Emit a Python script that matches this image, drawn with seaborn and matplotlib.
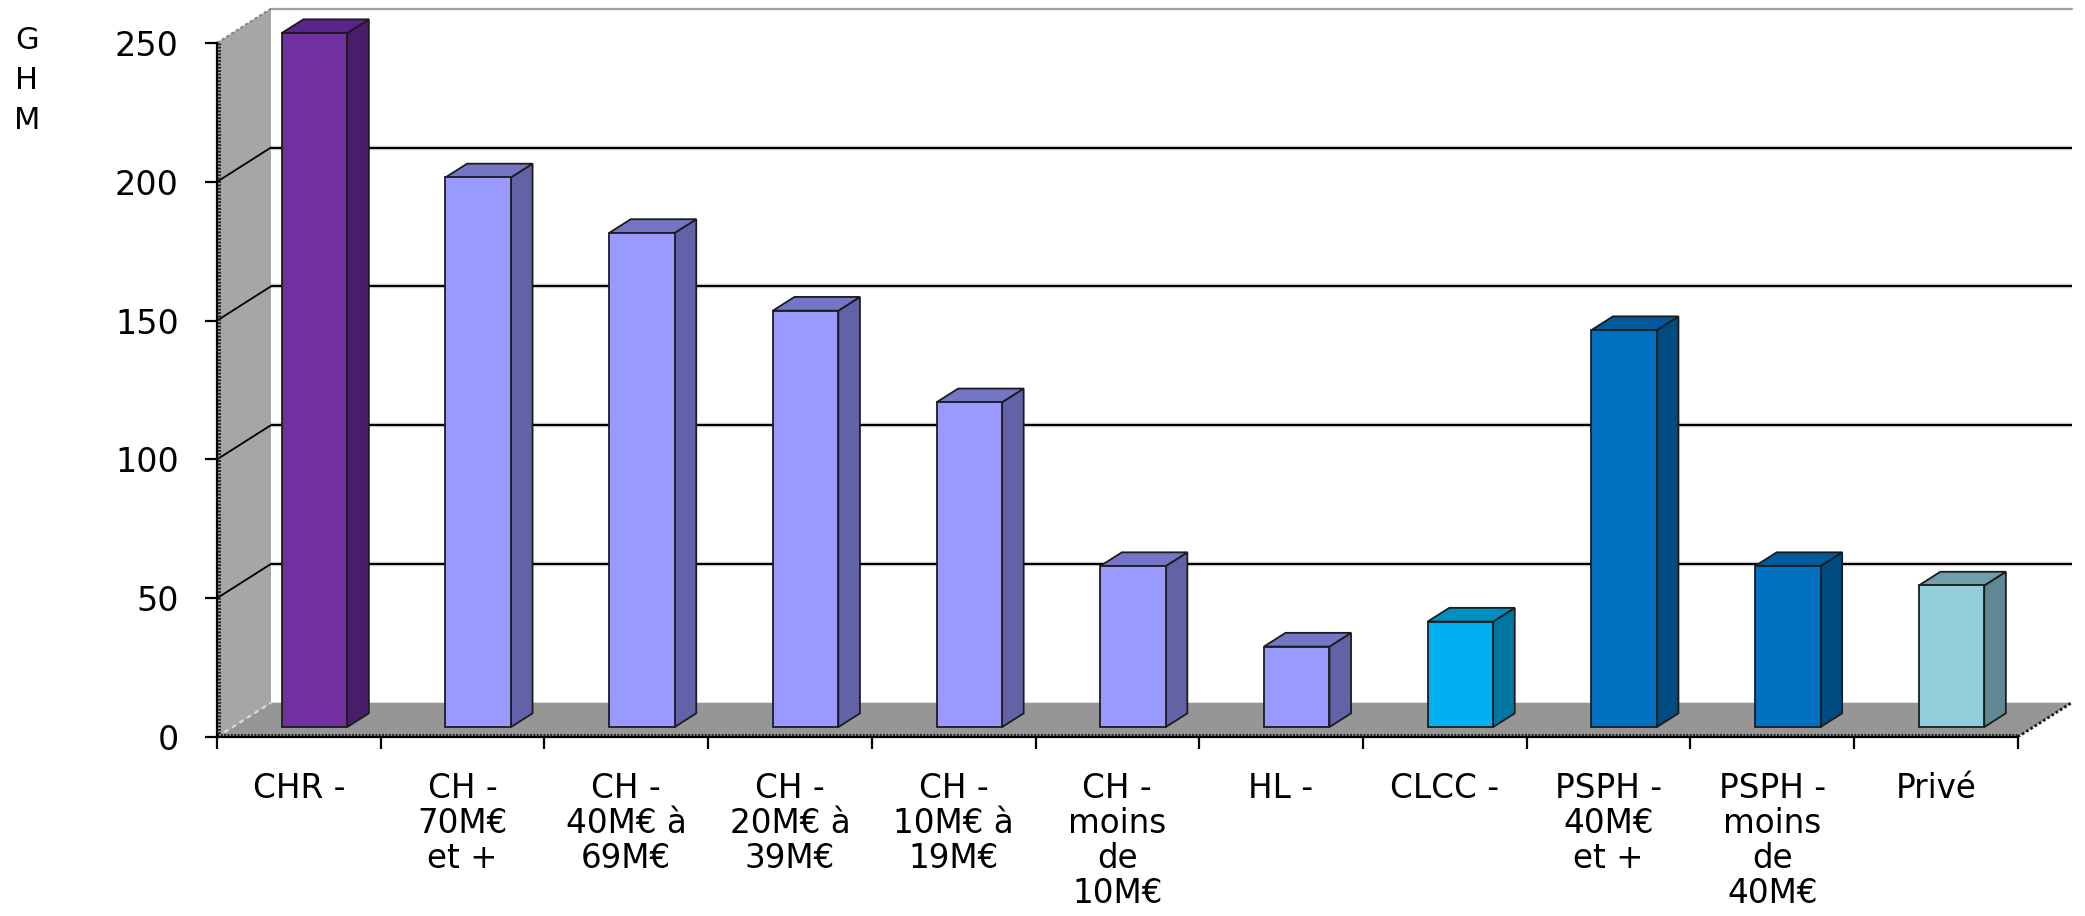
import numpy as np
import matplotlib
matplotlib.use("Agg")
import matplotlib.pyplot as plt
from matplotlib.patches import Polygon
import seaborn as sns

# ---- data -------------------------------------------------------------
categories = ["CHR -", "CH - 70M€ et +", "CH - 40M€ à 69M€", "CH - 20M€ à 39M€",
              "CH - 10M€ à 19M€", "CH - moins de 10M€", "HL -", "CLCC -",
              "PSPH - 40M€ et +", "PSPH - moins de 40M€", "Privé"]
tick_labels = ["CHR -", "CH -\n70M€\net +", "CH -\n40M€ à\n69M€", "CH -\n20M€ à\n39M€",
               "CH -\n10M€ à\n19M€", "CH -\nmoins\nde\n10M€", "HL -", "CLCC -",
               "PSPH -\n40M€\net +", "PSPH -\nmoins\nde\n40M€", "Privé"]
ghm_counts = [250, 198, 178, 150, 117, 58, 29, 38, 143, 58, 51]
y_ticks = [0, 50, 100, 150, 200, 250]

# face colours: front, right side, top
front_colors = ["#7030A0"] + ["#9999FF"] * 6 + ["#00B0F0", "#0070C0", "#0070C0", "#92CDDC"]
side_colors = ["#4A1D6A"] + ["#6262A8"] * 6 + ["#0077A3", "#004B82", "#004B82", "#5E8894"]
top_colors = ["#58258A"] + ["#7575C6"] * 6 + ["#008EC3", "#005A9B", "#005A9B", "#6E9FAC"]

# ---- style ------------------------------------------------------------
sns.set_style("white")
plt.rcParams["font.family"] = ["DejaVu Sans"]

W, H = 2085, 916
fig = plt.figure(figsize=(W / 100, H / 100), dpi=100)
fig.patch.set_facecolor("white")

# axes frame in pixels: front y-axis at x=217, floor front at y=737
px_left, px_right, px_bottom, px_top = 217, 2073, 737, 9
ax = fig.add_axes([px_left / W, (H - px_bottom) / H,
                   (px_right - px_left) / W, (px_bottom - px_top) / H])
ax.set_facecolor("white")

px_per_cat = 163.7
px_per_unit = 2.776
xmax = -0.5 + (px_right - px_left) / px_per_cat
ymax = (px_bottom - px_top) / px_per_unit

# depth of the 3-D box, in data units
DX = 54 / px_per_cat
DY = 34.3 / px_per_unit
f_front, f_back = 0.29, 0.69   # bar depth span as fraction of the box depth
n = len(categories)
x_lo, x_hi = -0.5, n - 0.5

# ---- bars (front faces) ----------------------------------------------
sns.barplot(x=categories, y=ghm_counts, hue=categories,
            palette=dict(zip(categories, front_colors)), saturation=1,
            width=0.4, legend=False, ax=ax,
            edgecolor="#1c1c1c", linewidth=1.3, zorder=5)

# ---- walls, floor and gridlines --------------------------------------
ax.add_patch(Polygon([(x_lo, 0), (x_lo, 250), (x_lo + DX, 250 + DY), (x_lo + DX, DY)],
                     closed=True, fc="#a6a6a6", ec="none", zorder=0.5))
ax.add_patch(Polygon([(x_lo, 0), (x_hi, 0), (x_hi + DX, DY), (x_lo + DX, DY)],
                     closed=True, fc="#969696", ec="none", zorder=1.5))

for v in y_ticks[1:-1]:
    ax.plot([x_lo + DX, x_hi + DX], [v + DY, v + DY], color="#cfcfcf", lw=3.2,
            solid_capstyle="butt", zorder=0.9)
    ax.plot([x_lo + DX, x_hi + DX], [v + DY, v + DY], color="black", lw=1.5,
            solid_capstyle="butt", zorder=1)
    ax.plot([x_lo, x_lo + DX], [v, v + DY], color="black", lw=1.3, zorder=1)

# top edge of the back wall and of the side wall
ax.plot([x_lo + DX, x_hi + DX], [250 + DY, 250 + DY], color="#a0a0a0", lw=1.6,
        zorder=1, clip_on=False)
ax.plot([x_lo, x_lo + DX], [250, 250 + DY], color="#8a8a8a", lw=1.6,
        ls=(0, (1.5, 1)), zorder=1, clip_on=False)
# floor side edges
ax.plot([x_lo, x_lo + DX], [0, DY], color="#dcdcdc", lw=1.6, ls=(0, (2, 2)), zorder=1.6)
ax.plot([x_hi, x_hi + DX], [0, DY], color="#1a1a1a", lw=2.0, ls=(0, (1, 0.8)), zorder=1.6)
# dotted front edges of the floor and the side wall
ax.plot([x_lo, x_hi], [0.9, 0.9], color="#222222", lw=2.2, ls=(0, (0.6, 0.5)), zorder=1.7)
ax.plot([x_lo + 0.012, x_lo + 0.012], [0, 250], color="#222222", lw=2.2,
        ls=(0, (0.6, 0.5)), zorder=1.7)

# ---- 3-D faces of the bars -------------------------------------------
for p in ax.patches:
    if not hasattr(p, "get_width") or p.get_height() == 0 or p.get_width() >= 1:
        continue
    x0, w, h = p.get_x(), p.get_width(), p.get_height()
    i = int(round(x0 + w / 2))
    if i < 0 or i >= n or abs((x0 + w / 2) - i) > 0.01:
        continue
    fx, fy = f_front * DX, f_front * DY
    bx, by = f_back * DX, f_back * DY
    p.set_x(x0 + fx)
    p.set_y(fy)
    side = Polygon([(x0 + w + fx, fy), (x0 + w + bx, by),
                    (x0 + w + bx, h + by), (x0 + w + fx, h + fy)],
                   closed=True, fc=side_colors[i], ec="#1c1c1c", lw=1.3, zorder=4.5)
    top = Polygon([(x0 + fx, h + fy), (x0 + w + fx, h + fy),
                   (x0 + w + bx, h + by), (x0 + bx, h + by)],
                  closed=True, fc=top_colors[i], ec="#1c1c1c", lw=1.3, zorder=4.5)
    ax.add_patch(side)
    ax.add_patch(top)

# ---- axes ---------------------------------------------------------------
ax.set_xlim(-0.5, xmax)
ax.set_ylim(0, ymax)
ax.grid(False)
for s in ("top", "right"):
    ax.spines[s].set_visible(False)
for s in ("left", "bottom"):
    ax.spines[s].set_color("black")
    ax.spines[s].set_linewidth(1.6)
    ax.spines[s].set_zorder(6)
ax.spines["left"].set_bounds(0, 250)
ax.spines["bottom"].set_bounds(x_lo, x_hi)

ax.set_yticks(y_ticks)
ax.set_yticklabels([str(v) for v in y_ticks])
ax.tick_params(axis="y", direction="out", length=8.6, width=1.6, pad=19,
               labelsize=24, colors="black", left=True)

ax.set_xticks(range(n))
ax.set_xticklabels(tick_labels, linespacing=1.08)
ax.set_xticks(np.arange(x_lo, x_hi + 0.01, 1.0), minor=True)
ax.tick_params(axis="x", which="major", length=0, pad=25, labelsize=23.5,
               colors="black", bottom=True)
ax.tick_params(axis="x", which="minor", direction="out", length=8.6, width=1.6,
               bottom=True, color="black")
ax.set_xlabel("")

ax.set_ylabel("G\nH\nM", rotation=0, fontsize=22, linespacing=1.48,
              ha="center", va="top", color="black")
ax.yaxis.set_label_coords((27 - px_left) / (px_right - px_left),
                          (px_bottom - 26) / (px_bottom - px_top))

fig.savefig("out.png", dpi=100, facecolor="white")
